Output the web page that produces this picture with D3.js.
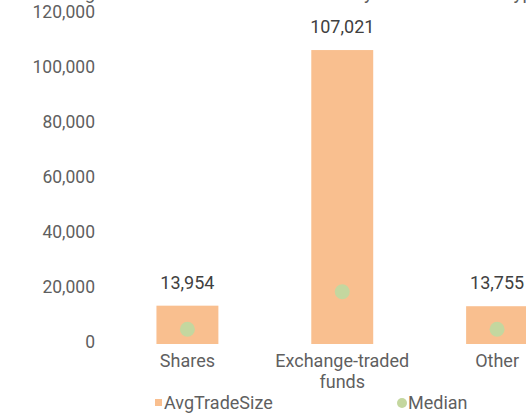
<!DOCTYPE html>
<html>
<head>
<meta charset="utf-8">
<script src="https://cdn.jsdelivr.net/npm/d3@7"></script>
<style>
  html, body { margin: 0; padding: 0; background: #fff; }
  svg { display: block; font-family: Roboto, "Noto Sans", sans-serif; }
</style>
</head>
<body>
<svg id="chart" width="526" height="414"></svg>
<script>
// Trade size by instrument type
const categories = ["Shares", "Exchange-traded funds", "Other"];
const avgTradeSize = [13954, 107021, 13755];
const medianTradeSize = [5350, 19000, 5350];
const yTicks = [0, 20000, 40000, 60000, 80000, 100000, 120000];
const seriesNames = ["AvgTradeSize", "Median"];
const titleText = "Average Trade Size and Median Value by the Instrument Type";

const barColor = "#F9BF8F";
const dotColor = "#C4D79F";
const axisText = "#5f5f5f";
const labelText = "#404040";

const svg = d3.select("#chart");

const x = d3.scaleBand()
  .domain(categories)
  .range([110, 574.5])
  .paddingInner(0.6)
  .paddingOuter(0.3);

const y = d3.scaleLinear()
  .domain([0, 120000])
  .range([344, 14.4]);

const fmt = d3.format(",");

// title (sits mostly above the visible area)
svg.append("text")
  .attr("x", 38)
  .attr("y", -1)
  .attr("fill", axisText)
  .style("font-size", "18.7px")
  .text(titleText);

// y axis labels, no line or ticks
const yAxis = d3.axisLeft(y).tickValues(yTicks).tickFormat(fmt).tickSize(0).tickPadding(0);
const yg = svg.append("g").attr("transform", "translate(95,0)").call(yAxis);
yg.select(".domain").remove();
yg.selectAll("text")
  .attr("fill", axisText)
  .attr("dy", "0.32em")
  .attr("y", -2.5)
  .style("font-size", "17.5px")
  .style("font-family", "Roboto, sans-serif");

// bars
svg.append("g").selectAll("rect")
  .data(categories)
  .join("rect")
  .attr("x", d => x(d))
  .attr("width", x.bandwidth())
  .attr("y", (d, i) => y(avgTradeSize[i]))
  .attr("height", (d, i) => y(0) - y(avgTradeSize[i]))
  .attr("fill", barColor);

// bar value labels
svg.append("g").selectAll("text")
  .data(categories)
  .join("text")
  .attr("x", d => x(d) + x.bandwidth() / 2)
  .attr("y", (d, i) => y(avgTradeSize[i]) - 17)
  .attr("text-anchor", "middle")
  .attr("fill", labelText)
  .style("font-size", "18px")
  .text((d, i) => fmt(avgTradeSize[i]));

// median markers
svg.append("g").selectAll("circle")
  .data(categories)
  .join("circle")
  .attr("cx", d => x(d) + x.bandwidth() / 2)
  .attr("cy", (d, i) => y(medianTradeSize[i]))
  .attr("r", 7.5)
  .attr("fill", dotColor);

// category labels (wrapped)
const catLines = {
  "Shares": ["Shares"],
  "Exchange-traded funds": ["Exchange-traded", "funds"],
  "Other": ["Other"]
};
const cat = svg.append("g").selectAll("text")
  .data(categories)
  .join("text")
  .attr("x", d => x(d) + x.bandwidth() / 2)
  .attr("y", 367)
  .attr("text-anchor", "middle")
  .attr("fill", axisText)
  .style("font-size", "18px");
cat.selectAll("tspan")
  .data(d => catLines[d].map(t => ({ t, cx: x(d) + x.bandwidth() / 2 })))
  .join("tspan")
  .attr("x", d => d.cx)
  .attr("dy", (d, i) => i === 0 ? 0 : 21)
  .text(d => d.t);

// legend
const legend = svg.append("g");
legend.append("rect")
  .attr("x", 155).attr("y", 399)
  .attr("width", 7).attr("height", 7)
  .attr("fill", barColor);
legend.append("text")
  .attr("x", 164).attr("y", 409)
  .attr("fill", axisText)
  .style("font-size", "18px")
  .text(seriesNames[0]);
legend.append("circle")
  .attr("cx", 402).attr("cy", 403)
  .attr("r", 5)
  .attr("fill", dotColor);
legend.append("text")
  .attr("x", 408).attr("y", 409)
  .attr("fill", axisText)
  .style("font-size", "18px")
  .text(seriesNames[1]);
</script>
</body>
</html>
